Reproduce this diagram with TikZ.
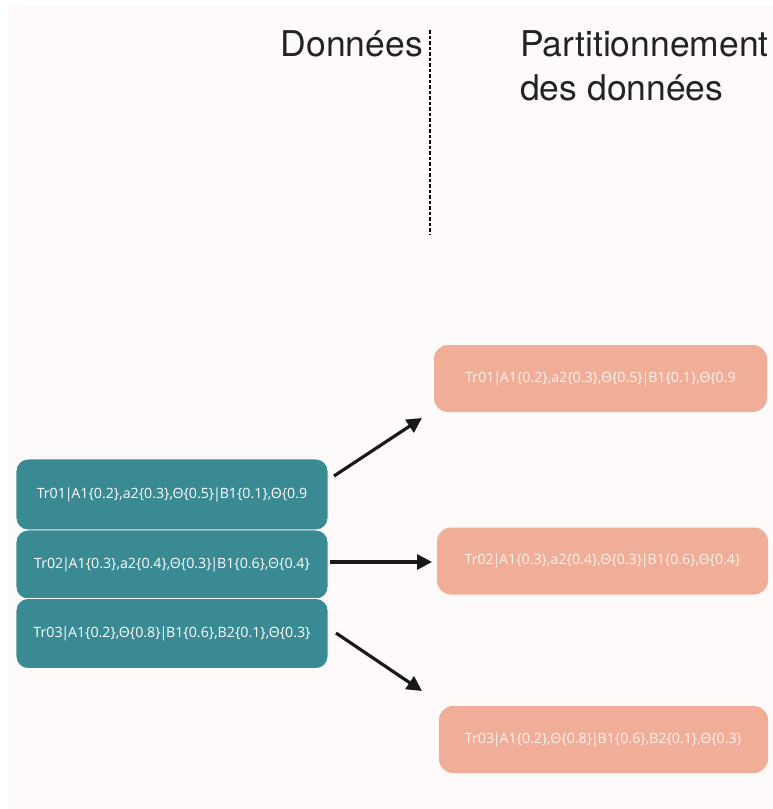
\documentclass[tikz,border=0pt]{standalone}
\usepackage{fontspec}
\setmainfont{TeX Gyre Heros}
\newfontfamily\boxfont{Open Sans}
\usetikzlibrary{arrows.meta}
\definecolor{bgcol}{RGB}{254,250,249}
\definecolor{teal}{RGB}{58,138,148}
\definecolor{salmon}{RGB}{240,174,153}
\definecolor{stext}{RGB}{255,243,238}
\definecolor{title}{RGB}{35,35,35}
\newcommand{\vb}{\kern-1.2pt|\kern-1.2pt}
\tikzset{
  tealbox/.style={fill=teal, draw=white, line width=0.8pt, rounded corners=12pt,
    minimum width=312pt, inner sep=0pt, text=white, font=\boxfont\fontsize{14.2}{16}\selectfont},
  salbox/.style={fill=salmon, draw=none, rounded corners=14pt,
    minimum height=67pt, inner sep=0pt, text=stext, font=\boxfont\fontsize{14.2}{16}\selectfont},
  arr/.style={line width=3.2pt, draw=black!90, -{Triangle[length=15pt,width=15pt]}},
  ttl/.style={font=\fontsize{35.5}{44}\selectfont, text=title, inner sep=0pt}
}
\begin{document}
\begin{tikzpicture}[x=1pt,y=-1pt]
\useasboundingbox (0,0) rectangle (773,809);
\fill[bgcol] (8,5) rectangle (773,809);
% titles
\node[ttl, anchor=base east] (d) at (423,56) {Données};
\node[ttl, anchor=base west] (p1) at (520,56) {Partitionnement};
\node[ttl, anchor=base west] (p2) at (520,100) {des données};
\coordinate (dtop) at (430,30);
\coordinate (dbot) at (430,234);
\draw[line width=1.8pt, dash pattern=on 3.5pt off 2pt, black] (dtop) -- (dbot);
% teal stack
\node[tealbox, minimum height=71pt] (t1) at (172,494.5) {Tr01\vb A1\{0.2\},a2\{0.3\},Θ\{0.5\}\vb B1\{0.1\},Θ\{0.9};
\node[tealbox, minimum height=69pt] (t2) at (172,564.5) {Tr02\vb A1\{0.3\},a2\{0.4\},Θ\{0.3\}\vb B1\{0.6\},Θ\{0.4\}};
\node[tealbox, minimum height=70pt] (t3) at (172,633.5) {Tr03\vb A1\{0.2\},Θ\{0.8\}\vb B1\{0.6\},B2\{0.1\},Θ\{0.3\}};
% salmon boxes
\node[salbox, minimum width=333pt] (s1) at (600.5,378.5) {Tr01\vb A1\{0.2\},a2\{0.3\},Θ\{0.5\}\vb B1\{0.1\},Θ\{0.9};
\node[salbox, minimum width=331pt] (s2) at (602.5,561) {Tr02\vb A1\{0.3\},a2\{0.4\},Θ\{0.3\}\vb B1\{0.6\},Θ\{0.4\}};
\node[salbox, minimum width=329pt] (s3) at (603.5,739.5) {Tr03\vb A1\{0.2\},Θ\{0.8\}\vb B1\{0.6\},B2\{0.1\},Θ\{0.3\}};
% arrows
\coordinate (a1s) at (334,476);
\coordinate (a1e) at (422,418);
\coordinate (a2s) at (330,562);
\coordinate (a2e) at (432,562);
\coordinate (a3s) at (336,633);
\coordinate (a3e) at (422,691);
\draw[arr] (a1s) -- (a1e);
\draw[arr] (a2s) -- (a2e);
\draw[arr] (a3s) -- (a3e);
\end{tikzpicture}
\end{document}
